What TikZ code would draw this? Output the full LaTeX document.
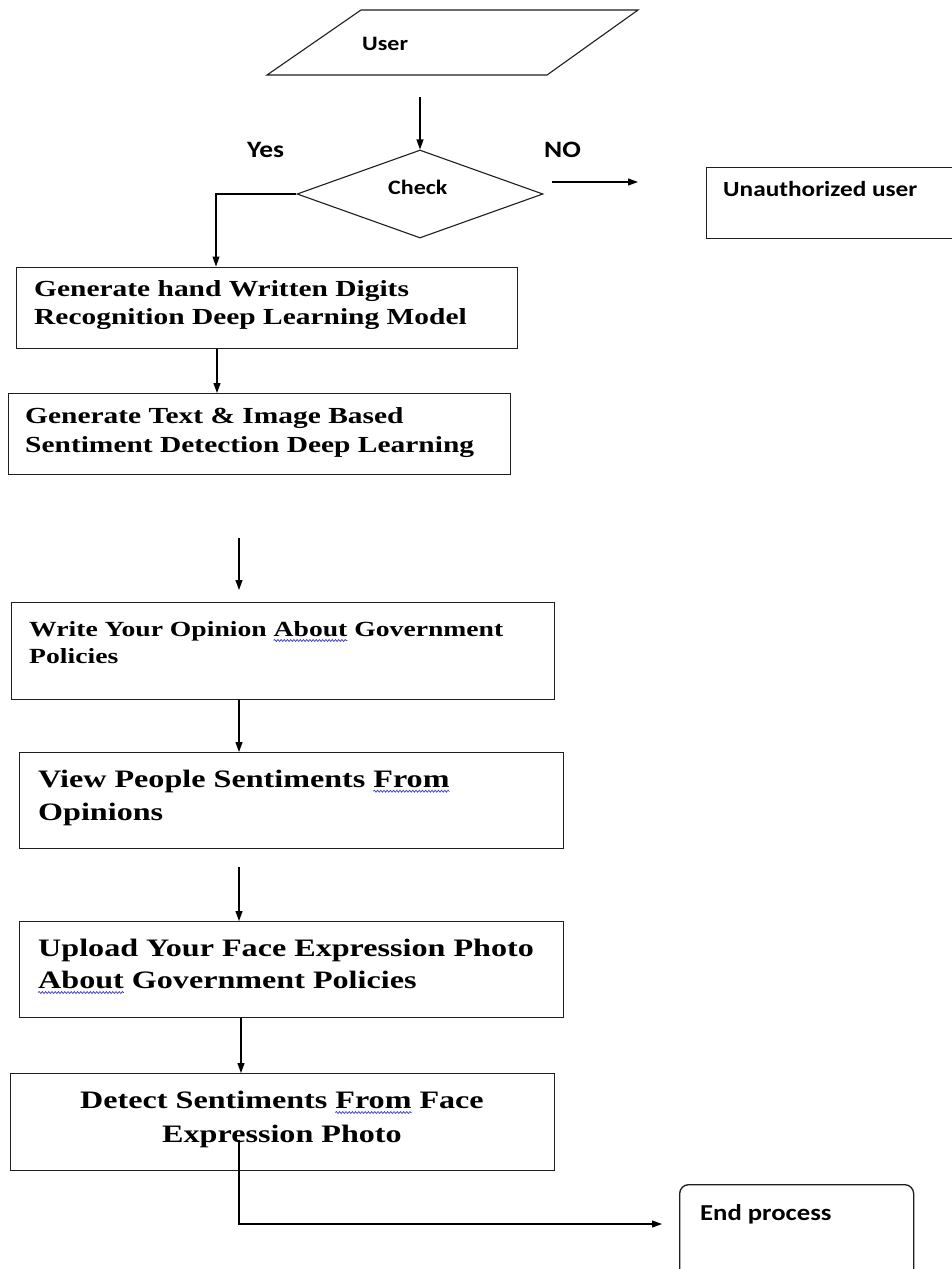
\documentclass[tikz,border=0pt]{standalone}
\usepackage{fontspec}
\usetikzlibrary{arrows.meta,shapes.geometric,decorations.pathmorphing}
\newfontfamily\serifbox[FakeStretch=1.28]{Liberation Serif}
\newfontfamily\calib[FakeStretch=1.17]{Carlito}
\definecolor{wavec}{RGB}{60,60,200}
\definecolor{linec}{RGB}{30,30,30}
\newcommand\spell[1]{\setbox0\hbox{#1}\rlap{\tikz[overlay]\draw[wavec,line width=0.7pt,decorate,decoration={snake,amplitude=1pt,segment length=3.2pt}] (0pt,-4pt) -- (\the\wd0,-4pt);}\box0\relax}
\tikzset{
 box/.style={draw=linec, line width=1.3pt, rectangle, inner sep=0pt, anchor=north west},
 arr/.style={draw=black, line width=1.1pt, -{Triangle[length=10pt,width=7pt]}},
 stxt/.style={inner sep=0pt, align=left, anchor=north west, text=black},
 lbl/.style={inner sep=0pt, anchor=base west, text=black},
}
\begin{document}
\begin{tikzpicture}[x=1pt,y=-1pt]
\useasboundingbox (0,0) rectangle (952,1269);
\clip (0,0) rectangle (952,1269);
\fill[white] (0,0) rectangle (952,1269);
% shapes
\draw[draw=linec, line width=1.1pt] (361,10) -- (638,10) -- (547,75) -- (267,75) -- cycle;
\node[diamond, draw=linec, line width=1.1pt, minimum width=246pt, minimum height=88pt, inner sep=0pt] (check) at (420,194) {};
\node[box, minimum width=254pt, minimum height=71pt] (unauth) at (706,167) {};
\node[box, minimum width=501pt, minimum height=81pt] (b1) at (16,266.5) {};
\node[box, minimum width=502pt, minimum height=81pt] (b2) at (8,393) {};
\node[box, minimum width=543pt, minimum height=97pt] (b3) at (11,602) {};
\node[box, minimum width=544pt, minimum height=96pt] (b4) at (19,752) {};
\node[box, minimum width=544pt, minimum height=96pt] (b5) at (19,921) {};
\node[box, minimum width=544pt, minimum height=97pt] (b6) at (10,1073) {};
\node[box, rounded corners=9pt, minimum width=234pt, minimum height=101pt] (endb) at (679,1184) {};
% texts
\node[lbl, font=\calib\bfseries\fontsize{20.5}{24}\selectfont] (user) at (362,50) {User};
\node[lbl, font=\calib\bfseries\fontsize{23.5}{27}\selectfont] (yes) at (247,157) {Yes};
\node[lbl, font=\calib\bfseries\fontsize{23.5}{27}\selectfont] (no) at (544,157) {NO};
\node[lbl, font=\calib\bfseries\fontsize{20.5}{24}\selectfont] (chk) at (388,194.3) {Check};
\node[lbl, font=\calib\bfseries\fontsize{21.6}{25}\selectfont] (unt) at (723,196) {Unauthorized user};
\node[lbl, font=\calib\bfseries\fontsize{22.8}{26}\selectfont] (ent) at (700,1220.5) {End process};
\node[stxt, font=\serifbox\bfseries\fontsize{23}{28.5}\selectfont] (t1) at (34,279.9) {Generate hand Written Digits\\Recognition Deep Learning Model};
\node[stxt, font=\serifbox\bfseries\fontsize{23}{28.5}\selectfont] (t2) at (25,407.4) {Generate Text \& Image Based\\Sentiment Detection Deep Learning};
\node[stxt, font=\serifbox\bfseries\fontsize{21.6}{27.5}\selectfont] (t3) at (29,621.3) {Write Your Opinion \spell{About} Government\\Policies};
\node[stxt, font=\serifbox\bfseries\fontsize{25.1}{33}\selectfont] (t4) at (38,769.6) {View People Sentiments \spell{From}\\Opinions};
\node[stxt, font=\serifbox\bfseries\fontsize{25.1}{32}\selectfont] (t5) at (38,938.9) {Upload Your Face Expression Photo\\\spell{About} Government Policies};
\node[inner sep=0pt, align=center, anchor=north, font=\serifbox\bfseries\fontsize{25.1}{34}\selectfont] (t6) at (282,1090.9) {Detect Sentiments \spell{From} Face\\Expression Photo};
% connectors
\coordinate (u1) at (420,97);
\draw[arr] (u1) -- (check.north);
\coordinate (n1) at (552,182);
\coordinate (n2) at (638,182);
\draw[arr] (n1) -- (n2);
\coordinate (ya) at (216,0);
\draw[arr] (check.west) -| (ya |- b1.north);
\coordinate (xa) at (217,0);
\draw[arr] (xa |- b1.south) -- (xa |- b2.north);
\coordinate (g1) at (239,538);
\coordinate (g2) at (239,590);
\draw[arr] (g1) -- (g2);
\coordinate (xb) at (239,0);
\draw[arr] (xb |- b3.south) -- (xb |- b4.north);
\coordinate (g3) at (239,867);
\draw[arr] (g3) -- (g3 |- b5.north);
\coordinate (xc) at (241,0);
\draw[arr] (xc |- b5.south) -- (xc |- b6.north);
\coordinate (e0) at (239,1140);
\coordinate (e2) at (662,1224);
\draw[arr] (e0) |- (e2);
\end{tikzpicture}
\end{document}
